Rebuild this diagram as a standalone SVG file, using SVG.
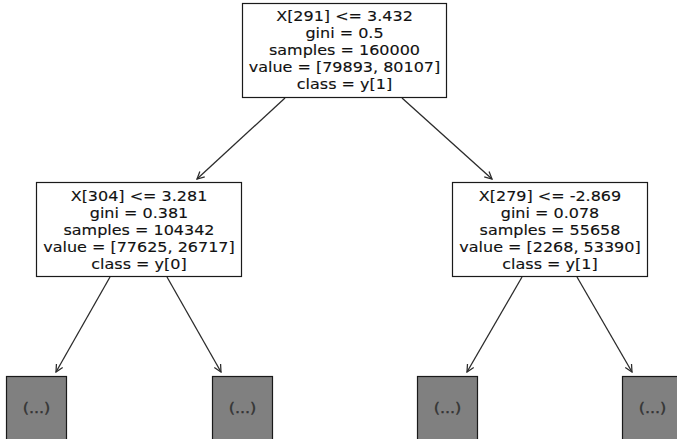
<svg xmlns="http://www.w3.org/2000/svg" width="677" height="439" viewBox="0 0 677 439">
  <style>
    .box { fill: #ffffff; stroke: #1a1a1a; stroke-width: 1.2; }
    .leaf { fill: #808080; stroke: #1a1a1a; stroke-width: 1.2; }
    .lbl { font-family: "DejaVu Sans", "Liberation Sans", sans-serif; font-size: 16px; fill: #111111; text-anchor: middle; stroke: #111111; stroke-width: 0.15; }
    .more { font-family: "DejaVu Sans", "Liberation Sans", sans-serif; font-size: 16px; fill: #333333; stroke: #333333; stroke-width: 0.4; text-anchor: middle; }
    .edge { stroke: #2b2b2b; stroke-width: 1.3; fill: none; marker-end: url(#head); }
  </style>
  <defs>
    <marker id="head" viewBox="0 0 10 10" refX="9" refY="5" markerWidth="9" markerHeight="9" markerUnits="userSpaceOnUse" orient="auto">
      <path d="M1,1 L9,5 L1,9" fill="none" stroke="#2b2b2b" stroke-width="1.4"/>
    </marker>
  </defs>

  <rect width="677" height="439" fill="#ffffff"/>

  <!-- edges -->
  <g id="connectors">
    <line class="edge" x1="285" y1="98" x2="197" y2="179"/>
    <line class="edge" x1="402" y1="98" x2="492" y2="179"/>
    <line class="edge" x1="110" y1="277" x2="56" y2="372"/>
    <line class="edge" x1="167" y1="277" x2="221" y2="372"/>
    <line class="edge" x1="522" y1="277" x2="467" y2="372"/>
    <line class="edge" x1="577" y1="277" x2="632" y2="372"/>
  </g>

  <!-- root split -->
  <g id="node-root">
    <rect class="box" x="242.5" y="3.5" width="204" height="94"/>
    <text class="lbl" transform="translate(344.5,20.5) scale(1,0.86)">X[291] &lt;= 3.432</text>
    <text class="lbl" transform="translate(344.5,37.5) scale(1,0.86)">gini = 0.5</text>
    <text class="lbl" transform="translate(344.5,54.5) scale(1,0.86)">samples = 160000</text>
    <text class="lbl" transform="translate(344.5,71.5) scale(1,0.86)">value = [79893, 80107]</text>
    <text class="lbl" transform="translate(344.5,88.5) scale(1,0.86)">class = y[1]</text>
  </g>

  <!-- left split -->
  <g id="node-left">
    <rect class="box" x="36.5" y="182.5" width="205" height="94"/>
    <text class="lbl" transform="translate(139,200.5) scale(1,0.86)">X[304] &lt;= 3.281</text>
    <text class="lbl" transform="translate(139,217.5) scale(1,0.86)">gini = 0.381</text>
    <text class="lbl" transform="translate(139,234.5) scale(1,0.86)">samples = 104342</text>
    <text class="lbl" transform="translate(139,251.5) scale(1,0.86)">value = [77625, 26717]</text>
    <text class="lbl" transform="translate(139,268.5) scale(1,0.86)">class = y[0]</text>
  </g>

  <!-- right split -->
  <g id="node-right">
    <rect class="box" x="452.5" y="182.5" width="195" height="94"/>
    <text class="lbl" transform="translate(550,200.5) scale(1,0.86)">X[279] &lt;= -2.869</text>
    <text class="lbl" transform="translate(550,217.5) scale(1,0.86)">gini = 0.078</text>
    <text class="lbl" transform="translate(550,234.5) scale(1,0.86)">samples = 55658</text>
    <text class="lbl" transform="translate(550,251.5) scale(1,0.86)">value = [2268, 53390]</text>
    <text class="lbl" transform="translate(550,268.5) scale(1,0.86)">class = y[1]</text>
  </g>

  <!-- truncated subtrees -->
  <g id="leaf-1">
    <rect class="leaf" x="6.5" y="376.5" width="60" height="70"/>
    <text class="more" transform="translate(36.5,413) scale(1,0.86)">(...)</text>
  </g>
  <g id="leaf-2">
    <rect class="leaf" x="212.5" y="376.5" width="60" height="70"/>
    <text class="more" transform="translate(242.5,413) scale(1,0.86)">(...)</text>
  </g>
  <g id="leaf-3">
    <rect class="leaf" x="417.5" y="376.5" width="60" height="70"/>
    <text class="more" transform="translate(447.5,413) scale(1,0.86)">(...)</text>
  </g>
  <g id="leaf-4">
    <rect class="leaf" x="622.5" y="376.5" width="60" height="70"/>
    <text class="more" transform="translate(652.5,413) scale(1,0.86)">(...)</text>
  </g>
</svg>
